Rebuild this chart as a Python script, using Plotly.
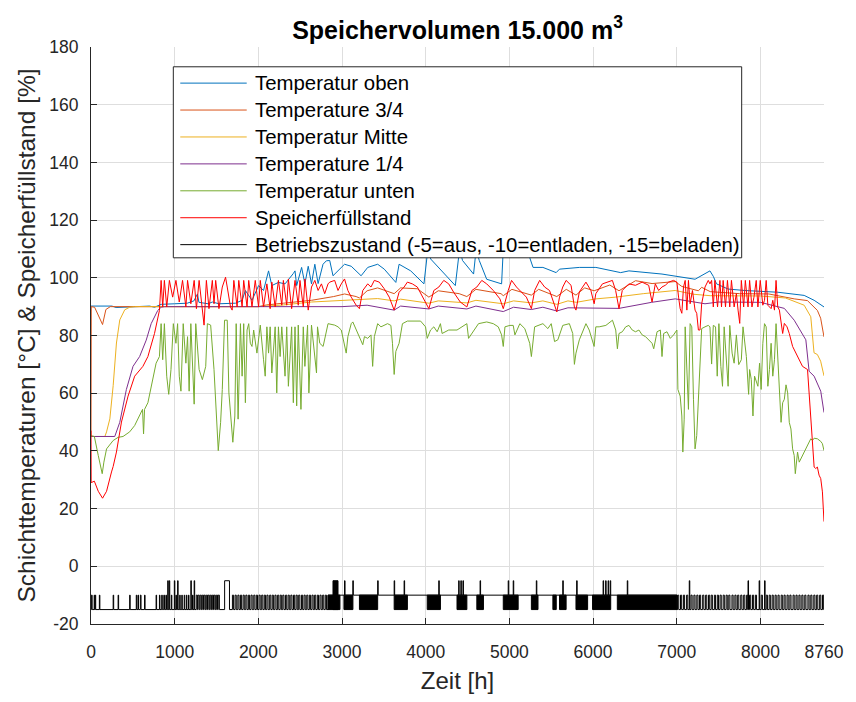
import plotly.graph_objects as go

# ---------------- data ----------------
t_oben = [0, 250, 300, 700, 760, 838, 1000, 1150, 1230, 1272, 1290, 1400, 1450, 1530, 1727, 1806,
          1845, 1924, 2003, 2062, 2122, 2161, 2240, 2319, 2418, 2438, 2458, 2517, 2556, 2596, 2635,
          2675, 2714, 2773, 2813, 2853, 2892, 2952, 3030, 3110, 3228, 3307, 3426, 3505, 3643, 3682,
          3821, 3979, 4026, 4060, 4354, 4405, 4440, 4572, 4603, 4640, 4729, 4907, 4927, 5000, 5203,
          5243, 5283, 5401, 5520, 5559, 5599, 5836, 6034, 6330, 6429, 6824, 7219, 7338, 7397, 7437,
          7476, 7614, 7812, 8207, 8523, 8642, 8760]
v_oben = [90.2, 90.2, 89.7, 90.2, 89.8, 90.8, 91, 91.2, 92, 94.4, 91.5, 91, 91.6, 91, 91.2, 92.2,
          95.6, 92.2, 97.3, 95.6, 102.4, 97.3, 98.4, 97.9, 101.5, 102.4, 97.3, 103.6, 97.9, 104, 97.9,
          104.7, 98, 104.7, 105.9, 106, 100.7, 102.4, 104.7, 104, 100.7, 103.6, 104.7, 103, 98.4, 104.7,
          102.4, 97.9, 110, 106.5, 97.3, 110, 106, 101.3, 110, 106, 99.5, 97.9, 110, 111, 110,
          107, 103.6, 103.6, 102.4, 101.8, 103, 103.6, 103.6, 101.8, 102.4, 101.3, 99.5, 101.3, 102.4, 100.5,
          97.9, 96.1, 95.6, 95, 93.9, 92.2, 89.9]

t_34 = [0, 3, 43, 100, 138, 178, 230, 2000, 2100, 2300, 2635, 2900, 3031, 3169, 3208, 3300, 3426,
        3623, 3700, 3900, 4038, 4150, 4400, 4492, 4600, 4900, 4927, 5030, 5263, 5350, 5567, 5680,
        5796, 5900, 6013, 6200, 6310, 6508, 6705, 6982, 7061, 7259, 7298, 7400, 7750, 8100, 8404,
        8562, 8681, 8720, 8760]
v_34 = [45, 90, 89.8, 86, 83.8, 89, 90, 90, 90.6, 91.2, 92.2, 93.5, 94.4, 93.5, 93, 95.5, 96.5,
        94.5, 96.5, 96.2, 93.3, 95.5, 94.5, 93.5, 96, 94.5, 93.8, 96, 94, 96, 93.5, 96,
        94, 96.5, 95.5, 97.5, 95.5, 99, 98, 98.7, 97, 95.5, 96.7, 95.2, 94.5, 94.4, 92.7,
        92.1, 88.7, 86, 79.5]

t_mitte = [0, 166, 186, 225, 265, 304, 344, 403, 462, 520, 2000, 2300, 2635, 3031, 3426, 3623,
           3700, 4038, 4150, 4492, 4600, 4927, 5050, 5263, 5400, 5567, 5700, 5800, 6034, 6271,
           6600, 6982, 7200, 7400, 8000, 8300, 8523, 8602, 8641, 8681, 8720, 8760]
v_mitte = [45, 45, 46.6, 51.1, 62.6, 77.4, 85.4, 88.9, 89.8, 90, 90, 90.6, 91.6, 92.2, 92.8, 92,
           92.6, 91.2, 92, 91.3, 92.2, 91, 92, 91.3, 92, 90.8, 92, 91.5, 92.7, 93.3,
           94.5, 95.6, 94.3, 93.8, 93.7, 93, 90.5, 86.5, 74, 73.4, 71.1, 66]

t_14 = [0, 284, 344, 423, 502, 581, 660, 719, 798, 838, 880, 3000, 3300, 3623, 3700, 4038, 4150,
        4492, 4600, 4927, 5050, 5263, 5400, 5567, 5700, 6034, 6310, 6700, 6982, 7338, 7500, 8000,
        8286, 8404, 8503, 8543, 8582, 8642, 8721, 8760]
v_14 = [45, 45, 49.9, 61.3, 69.3, 72.7, 78.4, 84.1, 88.7, 89.8, 90, 90, 90.5, 88.8, 90.2, 89.2, 90.2,
        89.2, 90.2, 88.3, 89.8, 89, 89.8, 88.5, 89.6, 89.4, 89.4, 91.5, 92.7, 91, 91.6, 91.5,
        89.4, 85.3, 80.2, 78.5, 67.6, 65.9, 60.7, 53.3]

t_unten = [0, 40, 87, 107, 134, 154, 186, 265, 324, 383, 462, 522, 581, 616, 628, 640, 680, 719,
           778, 818, 838, 857, 877, 905, 929, 956, 984, 1015, 1035, 1055, 1075, 1102, 1134, 1154,
           1173, 1193, 1233, 1252, 1292, 1331, 1371, 1391, 1430, 1470, 1498, 1521, 1549, 1569, 1596,
           1628, 1648, 1667, 1695, 1719, 1735, 1758, 1786, 1806, 1825, 1845, 1865, 1885, 1904, 1924,
           1944, 1983, 2023, 2062, 2082, 2102, 2122, 2141, 2161, 2201, 2220, 2240, 2260, 2280, 2319,
           2339, 2359, 2398, 2418, 2438, 2458, 2477, 2509, 2537, 2556, 2588, 2604, 2635, 2667, 2695,
           2707, 2734, 2774, 2813, 2833, 2912, 2952, 2991, 3030, 3050, 3070, 3110, 3129, 3188, 3228,
           3248, 3268, 3307, 3346, 3366, 3386, 3426, 3465, 3544, 3584, 3603, 3623, 3643, 3682, 3722,
           3781, 3939, 3998, 4018, 4058, 4097, 4137, 4176, 4196, 4236, 4275, 4374, 4453, 4492, 4512,
           4552, 4631, 4729, 4808, 4867, 4907, 4927, 4947, 5006, 5046, 5066, 5125, 5184, 5243, 5263,
           5302, 5401, 5460, 5500, 5540, 5579, 5638, 5717, 5757, 5777, 5796, 5836, 5915, 5954, 6013,
           6033, 6073, 6153, 6232, 6271, 6291, 6310, 6350, 6390, 6429, 6468, 6508, 6548, 6587, 6627,
           6666, 6705, 6725, 6765, 6804, 6824, 6844, 6883, 6923, 6962, 7002, 7014, 7041, 7061, 7073,
           7089, 7101, 7121, 7140, 7160, 7180, 7200, 7219, 7239, 7259, 7278, 7298, 7338, 7377, 7397,
           7417, 7437, 7464, 7484, 7504, 7527, 7547, 7567, 7594, 7614, 7634, 7662, 7686, 7713, 7741,
           7772, 7792, 7832, 7859, 7871, 7891, 7911, 7930, 7970, 7990, 8009, 8029, 8049, 8069, 8089,
           8108, 8128, 8148, 8168, 8187, 8207, 8227, 8247, 8266, 8286, 8306, 8326, 8345, 8365, 8385,
           8404, 8417, 8444, 8464, 8503, 8563, 8602, 8622, 8642, 8681, 8721, 8741, 8760]
v_unten = [45.3, 45, 38.4, 36.1, 32.1, 36.1, 40.7, 43.6, 44.7, 45, 46.6, 48.8, 52.1, 54.4, 45.9, 54.4, 56.7, 62.4,
           70.4, 72.7, 84.1, 71.6, 84.1, 65.9, 59.6, 68.2, 84.1, 77.3, 84.1, 65.9, 60.7, 84.1, 70.4, 79.6,
           60.7, 84.1, 56.2, 84.1, 68.2, 64.7, 69.3, 84.1, 83.6, 68.2, 52.1, 40.1, 49.9, 61.3, 85.3,
           85.3, 60.1, 53.3, 43, 52.1, 84.1, 51, 84.1, 65.9, 84.1, 56.7, 81.9, 84.1, 77.3, 76.2,
           81.9, 73.9, 83.6, 71.6, 65.9, 83, 73.9, 83, 67, 83, 60.1, 83, 72.7, 83, 65.9,
           83, 62.4, 83, 56.7, 83, 55.6, 83.6, 54.4, 83, 69.3, 83.6, 60.1, 83.6, 75, 67,
           83, 77.3, 76.2, 81.9, 84.1, 83.6, 83, 81.9, 77.3, 73.9, 79.6, 84.1, 84.7, 80.7, 78.5,
           76.8, 79.6, 79, 80.2, 69.3, 79.6, 84.1, 83, 84.1, 83.5, 77.3, 66.5, 74.5, 77.3, 84.1,
           85, 85, 83, 79, 81.9, 83, 81.3, 84.1, 80.7, 81.3, 81.9, 81.9, 83.5, 84.1, 79,
           80.7, 84.1, 84.7, 84.1, 83, 80.2, 76.2, 83, 83.5, 83.5, 80.2, 84.1, 82.4, 77.3, 72.7,
           83, 84.1, 82.4, 84.1, 77.9, 78.5, 83.5, 84.1, 80.7, 70, 73.9, 78.5, 84.1, 81.9, 76.2,
           83, 83, 83.5, 85.3, 81.9, 75.4, 80.7, 81.3, 83, 83.5, 81.9, 81.3, 81.9, 80.2, 79.6,
           78.5, 77.3, 75.4, 81.3, 81.9, 72.7, 80.7, 81.3, 79, 80.2, 81.9, 61.3, 59, 52.1, 39.6,
           51, 83, 68.2, 54.4, 84.1, 83, 57.9, 40.7, 45.3, 57.3, 73.9, 82.4, 83, 83.5, 83,
           70.1, 83.5, 83, 65.9, 84.1, 69.3, 62.4, 83, 70.4, 62.4, 83.5, 73.9, 70.4, 80.2, 69.9,
           71.6, 83, 72.7, 59.6, 68.2, 64.7, 52.1, 65.9, 62.4, 70.4, 61.3, 77.3, 84.1, 83, 62.4,
           68.2, 77.3, 65.9, 71.6, 84.1, 72.7, 61.3, 49.9, 56.7, 57.9, 62.9, 60.1, 49.9, 47.6, 40.7,
           38.4, 32.1, 39.6, 36.1, 38.4, 41.8, 44.2, 43.6, 44.4, 44.2, 43.3, 42.5, 40.1]

t_fuell = [0, 2, 40, 87, 138, 186, 245, 265, 304, 364, 443, 522, 620, 680, 759, 818, 838, 857, 877,
           905, 937, 976, 1015, 1055, 1094, 1134, 1154, 1193, 1233, 1260, 1292, 1331, 1351, 1379, 1410,
           1450, 1470, 1490, 1529, 1569, 1608, 1628, 1667, 1687, 1707, 1746, 1766, 1806, 1825, 1865,
           1885, 1924, 1963, 2003, 2023, 2062, 2102, 2141, 2161, 2201, 2240, 2280, 2299, 2339, 2359,
           2398, 2438, 2477, 2497, 2537, 2556, 2596, 2635, 2675, 2714, 2754, 2793, 2833, 2853, 2912,
           2952, 2991, 3030, 3070, 3110, 3169, 3208, 3248, 3307, 3346, 3386, 3445, 3505, 3564, 3623,
           3682, 3742, 3781, 3840, 3900, 3979, 4038, 4097, 4157, 4216, 4275, 4334, 4413, 4492, 4552,
           4611, 4670, 4729, 4808, 4887, 4927, 4986, 5026, 5085, 5125, 5203, 5263, 5302, 5362, 5421,
           5480, 5539, 5567, 5599, 5638, 5678, 5737, 5777, 5796, 5836, 5915, 5974, 6013, 6033, 6112,
           6231, 6270, 6310, 6349, 6428, 6507, 6586, 6665, 6705, 6744, 6784, 6823, 6863, 6903, 6962,
           7002, 7022, 7041, 7061, 7081, 7101, 7121, 7140, 7160, 7188, 7219, 7239, 7259, 7278, 7298,
           7338, 7377, 7397, 7417, 7437, 7456, 7488, 7516, 7535, 7555, 7583, 7606, 7634, 7654, 7686,
           7713, 7733, 7753, 7772, 7800, 7820, 7852, 7871, 7899, 7923, 7950, 7970, 7998, 8029, 8049,
           8069, 8089, 8128, 8148, 8168, 8187, 8207, 8227, 8266, 8286, 8318, 8345, 8385, 8444, 8503,
           8563, 8602, 8642, 8661, 8681, 8701, 8721, 8741, 8760]
v_fuell = [47, 29, 29.5, 26, 23.6, 26, 32.7, 34.6, 39.6, 50, 59, 65.9, 69.3, 72.7, 80.7, 88.7, 99.1, 89.9, 99.1,
           89.9, 99.1, 93.3, 99.1, 91.6, 99.1, 89.9, 99.1, 91, 99.1, 89.3, 99.1, 89.9, 83.6, 99.1, 89.3,
           99.1, 91, 99.1, 89.3, 96.8, 100.2, 96.8, 89.9, 88.8, 99.1, 89.9, 99.1, 89.9, 99.1, 89.9,
           99.1, 89.9, 99.1, 89.9, 99.1, 89.9, 97.9, 89.3, 98.5, 89.9, 99.1, 90.5, 99.1, 90.5, 99.6,
           89.3, 99.1, 90.5, 99.1, 89.9, 99.6, 88.8, 96.8, 99.1, 95.6, 97.9, 94.5, 97.9, 98.5, 99.1,
           95.6, 97.9, 99.6, 95.6, 93.3, 90.5, 89.3, 95.6, 97.9, 96.8, 99.1, 98.5, 96.2, 93.3, 88.8,
           95, 96.8, 98.5, 97.9, 96.8, 92.2, 89.3, 95.6, 96.8, 99.1, 97.9, 95, 91.6, 89.9, 95.6,
           96.8, 99.1, 97.9, 95.6, 92.7, 89.3, 95.6, 99.1, 96.8, 95.6, 93.3, 89.3, 95.6, 99.1, 96.8,
           95.6, 90.5, 88.2, 93.3, 96.8, 99.1, 97.4, 89.9, 88.8, 95.1, 98.5, 95.6, 91, 94.5, 97.9,
           99.1, 95.6, 89.3, 95.6, 97.9, 97.4, 98.5, 97.4, 91.6, 97.9, 95.6, 96.8, 97.4, 98.5, 99.1,
           98.5, 93.3, 89.3, 87.7, 96.8, 99.1, 88.8, 99.1, 91, 95.6, 88.8, 87.7, 81.9, 81.9, 91,
           96.8, 99.1, 97.9, 99.1, 89.9, 99.1, 89.9, 99.1, 89.9, 99.1, 89.9, 99.1, 89.9, 99.1, 89.9,
           94.5, 88.8, 84.2, 99.1, 89.9, 99.1, 89.9, 99.1, 89.9, 93.3, 99.1, 89.9, 99.1, 90.5, 92.2,
           99.1, 90.5, 89.3, 92.2, 88.8, 99.1, 89.9, 88.8, 80.7, 84.2, 83, 80.7, 76.2, 72.7, 69.3,
           68.2, 52.1, 34.4, 33.9, 34.4, 31.6, 30.4, 25.8, 15.5]

# Betriebszustand: step changes (hour, state)
status_t = [0, 5, 14, 38, 44, 50, 56, 100, 106, 265, 271, 324, 330, 462, 468, 541, 547, 562, 568, 590,
            598, 640, 646, 778, 784, 818, 824, 845, 852, 870, 878, 895, 902, 917, 923, 935, 941, 960,
            966, 996, 1002, 1015, 1021, 1035, 1041, 1060, 1066, 1085, 1091, 1114, 1120, 1140, 1146,
            1165, 1171, 1193, 1199, 1213, 1219, 1233, 1239, 1597, 1655, 2833, 3030, 3036, 3129, 3135,
            3426, 3432, 3623, 3629, 3742, 3748, 4156, 4162, 4394, 4400, 4420, 4426, 4445, 4451, 4650,
            4656, 4986, 4992, 5046, 5052, 5322, 5328, 5638, 5644, 5804, 5810, 6120, 6126, 6150, 6156,
            6180, 6186, 6205, 6211, 6409, 6415, 7002, 7150, 7156, 7852, 7858, 7985, 7991, 8050, 8056,
            8760]
status_v = [-15, -10, -15, -10, -15, -10, -15, -10, -15, -10, -15, -10, -15, -10, -15, -10, -15, -10, -15, -10,
            -15, -10, -15, -10, -15, -10, -15, -10, -15, -10, -15, -10, -15, -5, -15, -5, -15, -10,
            -15, -5, -15, -10, -15, -5, -15, -10, -15, -10, -15, -10, -15, -10, -15,
            -10, -15, -5, -15, -10, -15, -5, -15, -5, -15, -10, -5, -10, -5, -10,
            -5, -10, -5, -10, -5, -10, -5, -10, -5, -10, -5, -10, -5, -10, -5,
            -10, -5, -10, -5, -10, -5, -10, -5, -10, -5, -10, -5, -10, -5, -10,
            -5, -10, -5, -10, -5, -10, -15, -5, -15, -5, -15, -5, -15, -5, -15,
            -15]
# short switching pulses (-15 -> -10) in the comb-like stretches
comb_t = [1258, 1280, 1305, 1330, 1352, 1378, 1400, 1425, 1450, 1472, 1498, 1520,
          1690, 1722, 1755, 1786, 1818, 1850, 1881, 1912, 1945, 1976, 2008, 2040, 2071, 2102, 2135,
          2166, 2198, 2230, 2261, 2292, 2325, 2356, 2388, 2420, 2451, 2482, 2515, 2546, 2578, 2610,
          2641, 2672, 2705, 2736, 2768, 2800,
          7010, 7045, 7080, 7118, 7170, 7205, 7240, 7272, 7310, 7345, 7380, 7412, 7450, 7485, 7518,
          7555, 7590, 7622, 7660, 7695, 7728, 7765, 7800, 7835, 7870, 7905, 7940, 8010, 8070, 8105,
          8140, 8175, 8210, 8248, 8282, 8318, 8352, 8390, 8425, 8460, 8495, 8530, 8568, 8602, 8638,
          8672, 8708, 8742]
comb_w = 14
# stretches of very fast switching (drawn as filled bands)
block_s = [2833, 3023, 3208, 3623, 4018, 4374, 4611, 4927, 5263, 5520, 5599, 5796, 5994, 6290]
block_e = [2975, 3130, 3426, 3781, 4176, 4492, 4690, 5105, 5342, 5560, 5678, 5935, 6211, 7002]
block_lo = -15
block_hi = -10
block5_s = [2892]
block5_e = [2952]

x_ticks = [0, 1000, 2000, 3000, 4000, 5000, 6000, 7000, 8000, 8760]
y_ticks = [-20, 0, 20, 40, 60, 80, 100, 120, 140, 160, 180]

names = ["Temperatur oben", "Temperature 3/4", "Temperatur Mitte", "Temperature 1/4",
         "Temperatur unten", "Speicherfüllstand",
         "Betriebszustand (-5=aus, -10=entladen, -15=beladen)"]
colors = ["#0072BD", "#D95319", "#EDB120", "#7E2F8E", "#77AC30", "#FF0000", "#000000"]

series = [(t_oben, v_oben), (t_34, v_34), (t_mitte, v_mitte), (t_14, v_14),
          (t_unten, v_unten), (t_fuell, v_fuell)]
for i, (t, v) in enumerate(series):
    if len(t) != len(v):
        raise ValueError(f"length mismatch in series {i}: {len(t)} vs {len(v)}")
if len(status_t) != len(status_v):
    raise ValueError(f"status mismatch {len(status_t)} {len(status_v)}")

FONT = "Liberation Sans, Arial, Helvetica, sans-serif"
TXT = "#262626"

W, H = 856, 702
ML, MR, MT, MB = 91, 26, 47, 72
PW, PH = W - ML - MR, H - MT - MB


def px_x(px):
    return (px - ML) / PW


def px_y(py):
    return 1 - (py - MT) / PH


fig = go.Figure()
for i, (t, v) in enumerate(series):
    fig.add_trace(go.Scatter(x=t, y=v, mode="lines", name=names[i], showlegend=False,
                             line=dict(color=colors[i], width=1)))

# filled bands for fast switching
fx, fy = [], []
for s, e in zip(block_s, block_e):
    fx += [s, e, e, s, s, None]
    fy += [block_lo, block_lo, block_hi, block_hi, block_lo, None]
for s, e in zip(block5_s, block5_e):
    fx += [s, e, e, s, s, None]
    fy += [block_lo, block_lo, -5, -5, block_lo, None]
fig.add_trace(go.Scatter(x=fx, y=fy, mode="lines", fill="toself", fillcolor="#000000",
                         line=dict(color="#000000", width=1), showlegend=False,
                         hoverinfo="skip"))

# step line of operating state
events = list(zip(status_t, status_v))
for p in comb_t:
    events.append((p, -10))
    events.append((p + comb_w, -15))
events.sort(key=lambda e: e[0])
fig.add_trace(go.Scatter(x=[e[0] for e in events], y=[e[1] for e in events], mode="lines",
                         line_shape="hv", name=names[6], showlegend=False,
                         line=dict(color=colors[6], width=1)))

# legend box (opaque, drawn above the lines like the original one)
leg_x0, leg_x1, leg_top, leg_bot = 174, 747, 67, 260
row_y0, row_dy = 83.5, 27.2
sample_x0, sample_x1, text_x = 181, 248, 254
shapes = [dict(type="rect", xref="paper", yref="paper", layer="above",
               x0=px_x(leg_x0), x1=px_x(leg_x1), y0=px_y(leg_bot), y1=px_y(leg_top),
               fillcolor="white", line=dict(color=TXT, width=1))]
annotations = []
for i, name in enumerate(names):
    yy = px_y(row_y0 + i * row_dy)
    shapes.append(dict(type="line", xref="paper", yref="paper", layer="above",
                       x0=px_x(sample_x0), x1=px_x(sample_x1), y0=yy, y1=yy,
                       line=dict(color=colors[i], width=1)))
    annotations.append(dict(text=name, xref="paper", yref="paper", x=px_x(text_x), y=yy,
                            xanchor="left", yanchor="middle", showarrow=False,
                            font=dict(family=FONT, size=20.4, color="#000000")))

axis_common = dict(showline=True, linecolor=TXT, linewidth=1, ticks="inside", ticklen=6,
                   tickcolor=TXT, tickwidth=1, showgrid=True, gridcolor="#dedede", gridwidth=1,
                   zeroline=False, mirror=False, ticklabeloverflow="allow",
                   tickfont=dict(family=FONT, size=17.5, color=TXT))

fig.update_layout(
    width=W, height=H,
    margin=dict(l=ML, r=MR, t=MT, b=MB),
    paper_bgcolor="white", plot_bgcolor="white",
    title=dict(text="<b>Speichervolumen 15.000 m<sup>3</sup></b>",
               font=dict(family=FONT, size=25, color="#000000"),
               x=0.5, xref="paper", xanchor="center", y=1 - 30 / H, yref="container",
               yanchor="middle"),
    xaxis=dict(range=[0, 8760], tickvals=x_ticks, ticktext=[str(v) for v in x_ticks],
               title=dict(text="Zeit [h]", font=dict(family=FONT, size=24, color=TXT), standoff=11),
               ticklabelstandoff=12, **axis_common),
    yaxis=dict(range=[-20, 180], tickvals=y_ticks, ticktext=[str(v) for v in y_ticks],
               title=dict(text="Schichttemperaturen [°C] & Speicherfüllstand [%]",
                          font=dict(family=FONT, size=24.5, color=TXT), standoff=6),
               ticklabelstandoff=8, **axis_common),
    shapes=shapes,
    annotations=annotations,
    showlegend=False,
    hovermode=False,
)

# remove the browser's default 8px page margin so the figure sits at the page origin
fig.write_html("out.html", config={"displayModeBar": False, "staticPlot": True},
               post_script="document.body.style.margin='0';")
